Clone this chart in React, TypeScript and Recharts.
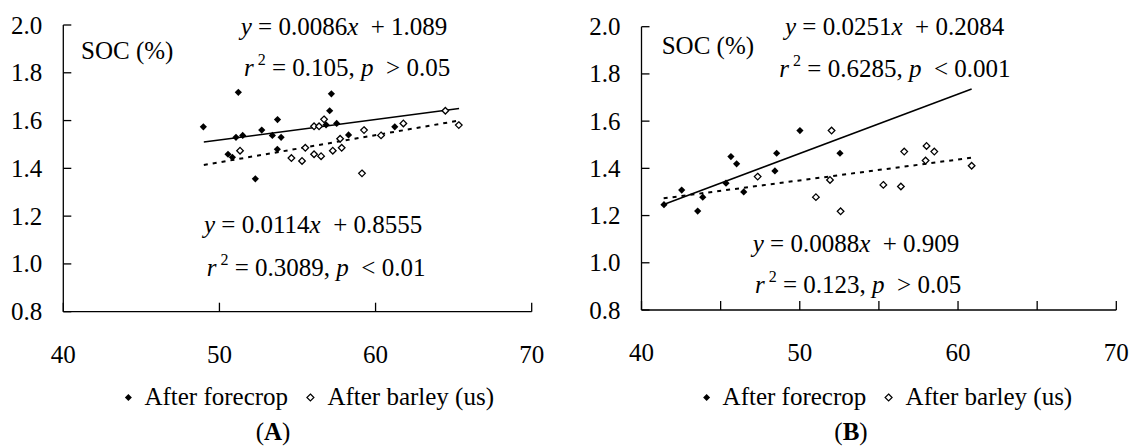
import React from "react";
import { ScatterChart, Scatter, XAxis, YAxis } from "recharts";

const FONT = "'Liberation Serif', 'Times New Roman', serif";

// (A) SOC vs x, after forecrop (filled) and after barley (open)
const aForeX = [48.97, 51.21, 51.06, 51.49, 50.55, 50.83, 52.3, 52.71, 53.39, 53.72, 53.95, 53.71, 57.17, 57.06, 56.83, 57.51, 58.27, 61.23];
const aForeY = [1.574, 1.718, 1.53, 1.538, 1.459, 1.446, 1.356, 1.56, 1.538, 1.604, 1.53, 1.48, 1.712, 1.641, 1.582, 1.588, 1.54, 1.574];
const aBarX = [51.32, 54.61, 55.29, 55.5, 56.06, 56.51, 56.06, 56.38, 56.7, 57.26, 57.83, 57.73, 59.26, 59.13, 60.35, 61.78, 64.47, 65.33];
const aBarY = [1.474, 1.443, 1.431, 1.486, 1.459, 1.451, 1.576, 1.576, 1.605, 1.474, 1.486, 1.524, 1.56, 1.379, 1.538, 1.588, 1.641, 1.581];
// fitted lines, end points
const aForeFit = [{ x: 49, y: 1.510 }, { x: 65.35, y: 1.651 }];
const aBarFit = [{ x: 49, y: 1.414 }, { x: 65.35, y: 1.600 }];

// (B)
const bForeX = [41.42, 42.54, 43.55, 43.87, 45.34, 45.65, 46.01, 46.46, 48.43, 48.54, 50.01, 52.54];
const bForeY = [1.246, 1.308, 1.219, 1.278, 1.337, 1.45, 1.419, 1.3, 1.389, 1.464, 1.56, 1.464];
const bBarX = [47.34, 51.02, 51.91, 52.01, 52.58, 55.28, 56.39, 56.6, 57.95, 58.01, 58.5, 60.86];
const bBarY = [1.365, 1.278, 1.351, 1.56, 1.218, 1.33, 1.323, 1.471, 1.433, 1.495, 1.471, 1.411];
const bForeFit = [{ x: 41.4, y: 1.247 }, { x: 60.86, y: 1.736 }];
const bBarFit = [{ x: 41.4, y: 1.273 }, { x: 60.86, y: 1.445 }];

const yTicks = [0.8, 1.0, 1.2, 1.4, 1.6, 1.8, 2.0];
const xTicksA = [40, 50, 60, 70];
const xTicksB = [40, 45, 50, 55, 60, 65, 70];

const toPts = (xs: number[], ys: number[]) => xs.map((x, i) => ({ x, y: ys[i] }));

function XTick(p: any) {
  const { x, y, payload } = p;
  const v = payload.value;
  return (
    <g>
      <line x1={x} y1={y} x2={x} y2={y - 9} stroke="#000" strokeWidth={1.3} />
      {v % 10 === 0 && (
        <text x={x} y={y + 51} textAnchor="middle" fontFamily={FONT} fontSize={25} fill="#000">
          {v}
        </text>
      )}
    </g>
  );
}

function YTick(p: any) {
  const { x, y, payload } = p;
  return (
    <g>
      <line x1={x} y1={y} x2={x + 8} y2={y} stroke="#000" strokeWidth={1.3} />
      <text x={x - 21} y={y + 8.5} textAnchor="end" fontFamily={FONT} fontSize={25} fill="#000">
        {Number(payload.value).toFixed(1)}
      </text>
    </g>
  );
}

const FilledDiamond = (p: any) => {
  const { cx, cy } = p;
  const r = 3.6;
  return <polygon points={`${cx},${cy - r} ${cx + r},${cy} ${cx},${cy + r} ${cx - r},${cy}`} fill="#000" />;
};

const OpenDiamond = (p: any) => {
  const { cx, cy } = p;
  const r = 3.3;
  return (
    <polygon
      points={`${cx},${cy - r} ${cx + r},${cy} ${cx},${cy + r} ${cx - r},${cy}`}
      fill="#fff"
      stroke="#000"
      strokeWidth={1.3}
    />
  );
};

const NoShape = () => <g />;

interface PanelProps {
  fore: { x: number; y: number }[];
  bar: { x: number; y: number }[];
  foreFit: { x: number; y: number }[];
  barFit: { x: number; y: number }[];
  xTicks: number[];
  yAxisWidth: number;
  margin: { top: number; right: number; bottom: number; left: number };
}

function Panel({ fore, bar, foreFit, barFit, xTicks, yAxisWidth, margin }: PanelProps) {
  const axisLine = { stroke: "#000", strokeWidth: 1.3 };
  return (
    <ScatterChart width={567} height={448} margin={margin}>
      <XAxis
        type="number"
        dataKey="x"
        domain={[40, 70]}
        ticks={xTicks}
        interval={0}
        height={40}
        tickSize={0}
        tickMargin={0}
        tickLine={false}
        axisLine={axisLine}
        tick={(p: any) => <XTick {...p} />}
      />
      <YAxis
        type="number"
        dataKey="y"
        domain={[0.8, 2.0]}
        ticks={yTicks}
        interval={0}
        width={yAxisWidth}
        tickSize={0}
        tickMargin={0}
        tickLine={false}
        axisLine={axisLine}
        tick={(p: any) => <YTick {...p} />}
      />
      <Scatter data={barFit} line={{ stroke: "#000", strokeWidth: 2, strokeDasharray: "4 5" }} shape={NoShape} isAnimationActive={false} />
      <Scatter data={foreFit} line={{ stroke: "#000", strokeWidth: 1.5 }} shape={NoShape} isAnimationActive={false} />
      <Scatter name="After barley (us)" data={bar} shape={OpenDiamond} isAnimationActive={false} />
      <Scatter name="After forecrop" data={fore} shape={FilledDiamond} isAnimationActive={false} />
    </ScatterChart>
  );
}

const txt = { fontFamily: FONT, fontSize: 25, fill: "#000", whiteSpace: "pre" as const };

function Eq({ x, y, slope, icpt }: { x: number; y: number; slope: string; icpt: string }) {
  return (
    <text x={x} y={y} style={txt}>
      <tspan fontStyle="italic">y</tspan>
      <tspan>{" = " + slope}</tspan>
      <tspan fontStyle="italic">x</tspan>
      <tspan>{"  + " + icpt}</tspan>
    </text>
  );
}

function R2({ x, y, r2, p }: { x: number; y: number; r2: string; p: string }) {
  return (
    <text x={x} y={y} style={txt}>
      <tspan fontStyle="italic">r</tspan>
      <tspan dx={4} dy={-11} fontSize={16}>2</tspan>
      <tspan dy={11}>{" = " + r2 + ", "}</tspan>
      <tspan fontStyle="italic">p</tspan>
      <tspan>{"  " + p}</tspan>
    </text>
  );
}

function Legend({ x, y }: { x: number; y: number }) {
  return (
    <g>
      <polygon points={`${x},${y - 11} ${x + 3.5},${y - 7.5} ${x},${y - 4} ${x - 3.5},${y - 7.5}`} fill="#000" />
      <text x={x + 16} y={y} style={txt}>After forecrop</text>
      <polygon
        points={`${x + 182},${y - 11} ${x + 185.5},${y - 7.5} ${x + 182},${y - 4} ${x + 178.5},${y - 7.5}`}
        fill="#fff"
        stroke="#000"
        strokeWidth={1.2}
      />
      <text x={x + 199} y={y} style={txt}>After barley (us)</text>
    </g>
  );
}

export default function App() {
  return (
    <div style={{ position: "absolute", left: 0, top: 0, width: 1134, height: 448, background: "#fff" }}>
      <div style={{ position: "absolute", left: 0, top: 0 }}>
        <Panel
          fore={toPts(aForeX, aForeY)}
          bar={toPts(aBarX, aBarY)}
          foreFit={aForeFit}
          barFit={aBarFit}
          xTicks={xTicksA}
          yAxisWidth={63.3}
          margin={{ top: 25, right: 35.3, bottom: 96.3, left: 0 }}
        />
      </div>
      <div style={{ position: "absolute", left: 567, top: 0 }}>
        <Panel
          fore={toPts(bForeX, bForeY)}
          bar={toPts(bBarX, bBarY)}
          foreFit={bForeFit}
          barFit={bBarFit}
          xTicks={xTicksB}
          yAxisWidth={74.5}
          margin={{ top: 26.7, right: 17.7, bottom: 98, left: 0 }}
        />
      </div>
      <svg width={1134} height={448} style={{ position: "absolute", left: 0, top: 0, pointerEvents: "none" }}>
        <text x={81} y={59} style={txt}>SOC (%)</text>
        <Eq x={240.7} y={35} slope="0.0086" icpt="1.089" />
        <R2 x={244} y={76} r2="0.105" p="> 0.05" />
        <Eq x={204} y={233} slope="0.0114" icpt="0.8555" />
        <R2 x={206.7} y={276} r2="0.3089" p="< 0.01" />
        <Legend x={128.4} y={405} />
        <text x={273} y={440} textAnchor="middle" style={txt}>
          (<tspan fontWeight="bold">A</tspan>)
        </text>

        <text x={661.7} y={53.5} style={txt}>SOC (%)</text>
        <Eq x={785} y={35} slope="0.0251" icpt="0.2084" />
        <R2 x={779.3} y={77} r2="0.6285" p="< 0.001" />
        <Eq x={752.7} y={251.7} slope="0.0088" icpt="0.909" />
        <R2 x={755} y={293.3} r2="0.123" p="> 0.05" />
        <Legend x={706.6} y={405} />
        <text x={851} y={440} textAnchor="middle" style={txt}>
          (<tspan fontWeight="bold">B</tspan>)
        </text>
      </svg>
    </div>
  );
}
